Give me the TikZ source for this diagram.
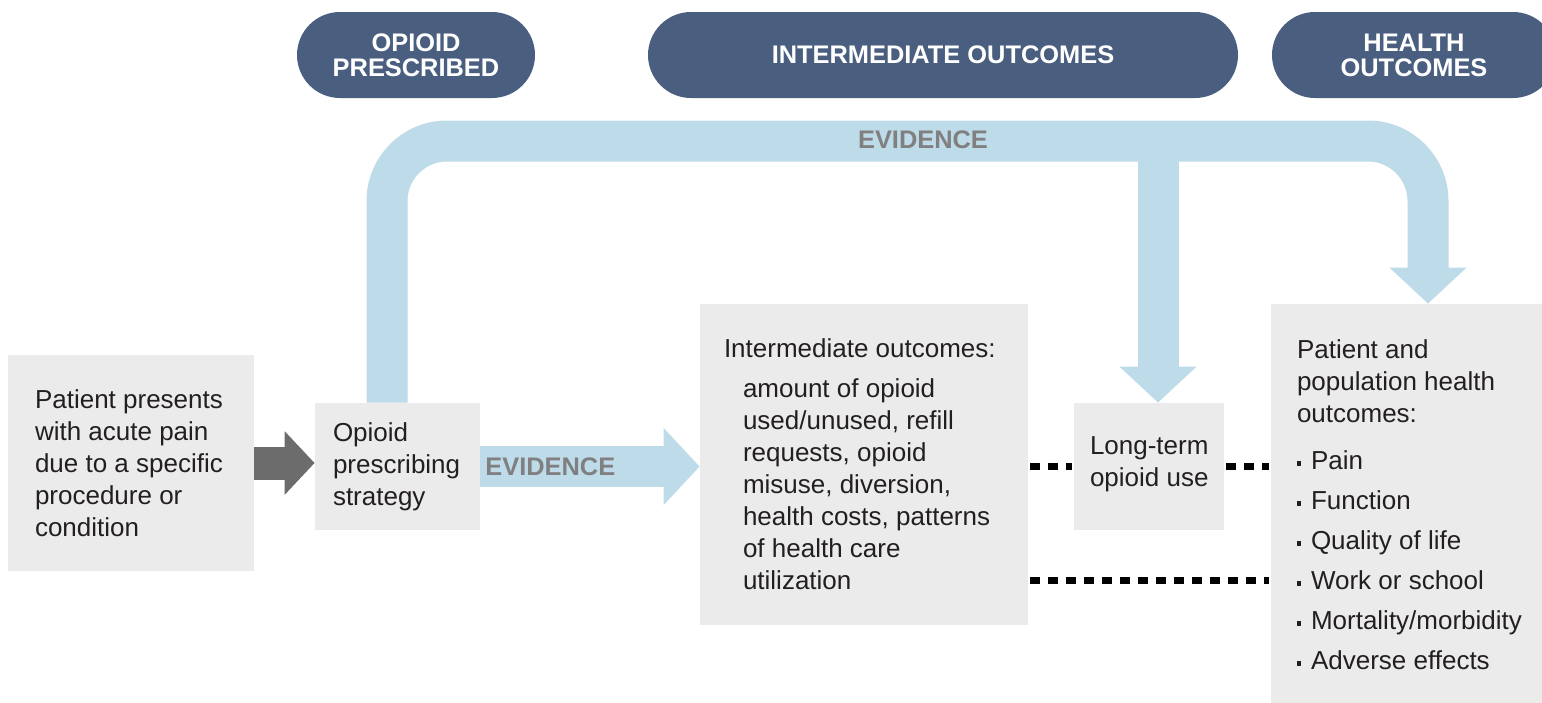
\documentclass[tikz,border=0pt]{standalone}
\usepackage{fontspec}
\setmainfont{Liberation Sans}
\definecolor{navy}{RGB}{74,95,128}
\definecolor{skyarrow}{RGB}{190,219,234}
\definecolor{boxgrey}{RGB}{235,235,235}
\definecolor{shaftgrey}{RGB}{108,108,108}
\definecolor{evgrey}{RGB}{128,128,128}
\definecolor{ink}{RGB}{35,31,32}
\usetikzlibrary{
  arrows.meta,     % wide triangle heads
  positioning      % right= placement of texts
}
\newcommand{\sqbul}{\rule[0.3ex]{2pt}{2.4pt}\hspace{5pt}}
\newcommand{\ind}{\hspace*{9.5pt}}
\tikzset{
    pill/.style = {
        rectangle,
        rounded corners=21.5pt,
        fill=navy,
        text=white,
        minimum height=43pt,
        align=center,
        inner sep=0pt,
        font=\fontsize{12.7}{12.5}\selectfont\bfseries
    },
    greybox/.style = {rectangle, fill=boxgrey, inner sep=0pt},
    bodytext/.style = {align=left, inner sep=0pt, text=ink,
        font=\fontsize{13}{16}\selectfont},
    evid/.style = {text=evgrey, inner sep=0pt, outer sep=0pt,
        font=\fontsize{12.7}{14}\selectfont\bfseries},
    bluearrow/.style = {color=skyarrow, line width=20.5pt,
        -{Triangle[length=18pt,width=37.5pt]}},
    darkarrow/.style = {color=shaftgrey, line width=16.5pt,
        -{Triangle[length=15pt,width=31pt]}},
    dotline/.style = {draw=black, line width=3.5pt,
        dash pattern=on 5pt off 4pt, shorten <=1pt, shorten >=1pt}
}

\begin{document}
\begin{tikzpicture}[x=0.5pt,y=-0.5pt]
  \useasboundingbox[fill=white] (0,0) rectangle (1542,702);

  %% column headers
  \node[pill, minimum width=119pt] (hOpioid) at (416,55) {OPIOID\\PRESCRIBED};
  \node[pill, minimum width=295pt] (hInter) at (943,55) {INTERMEDIATE OUTCOMES};
  \node[pill, minimum width=142pt] (hHealth) at (1414,55) {HEALTH\\OUTCOMES};

  %% patient
  \node[greybox, minimum width=123pt, minimum height=108pt] (pres) at (131,463) {};
  \node[bodytext, right] (presT) at ([xshift=13.5pt]pres.west)
    {Patient presents\\with acute pain\\due to a specific\\procedure or\\condition};

  %% strategy
  \node[greybox, minimum width=82.5pt, minimum height=63.5pt] (strat) at (397.5,466.5) {};
  \node[bodytext, right] (stratT) at ([xshift=9pt]strat.west)
    {Opioid\\prescribing\\strategy};

  %% intermediate outcomes
  \node[greybox, minimum width=164pt, minimum height=160.5pt] (inter) at (864,464.5) {};
  \node[bodytext, right] (interT) at ([xshift=12pt]inter.west)
    {Intermediate outcomes:\\[4pt]\ind amount of opioid\\\ind used/unused, refill\\\ind requests, opioid\\\ind misuse, diversion,\\\ind health costs, patterns\\\ind of health care\\\ind utilization};

  %% long-term use
  \node[greybox, minimum width=75pt, minimum height=63.5pt] (ltu) at (1149,466.5) {};
  \node[bodytext, right] (ltuT) at ([xshift=8pt,yshift=1pt]ltu.west)
    {Long-term\\opioid use};

  %% health outcomes
  \node[greybox, minimum width=139.5pt, minimum height=203pt] (hlth) at (1410.5,507) {};
  \node[bodytext, right] (hlthT) at ([xshift=13pt,yshift=1pt]hlth.west)
    {Patient and\\population health\\outcomes:\\[7.5pt]\sqbul Pain\\[4pt]\sqbul Function\\[4pt]\sqbul Quality of life\\[4pt]\sqbul Work or school\\[4pt]\sqbul Mortality/morbidity\\[4pt]\sqbul Adverse effects};

  %% arrows
  \draw[darkarrow] (pres.east) -- (pres.east -| strat.west);
  \draw[bluearrow] (strat.east) -- (strat.east -| inter.west)
    node[evid, pos=0, right, xshift=2.5pt] (ev1) {EVIDENCE};

  \coordinate (topR) at (1428,141);
  \draw[bluearrow, rounded corners=30pt] ([xshift=-5.25pt]strat.north) |- (topR) -- (topR |- hlth.north);
  \coordinate (brTip) at ([xshift=4.5pt]ltu.north);
  \draw[bluearrow] (brTip |- topR) -- (brTip);
  \node[evid] (ev2) at (923,140) {EVIDENCE};

  %% dotted links
  \draw[dotline] (inter.east |- ltu.west) -- (ltu.west);
  \draw[dotline] (ltu.east) -- (ltu.east -| hlth.west);
  \coordinate (wsY) at ([yshift=-57.75pt]inter.east);
  \draw[dotline] (wsY) -- (wsY -| hlth.west);

\end{tikzpicture}
\end{document}
